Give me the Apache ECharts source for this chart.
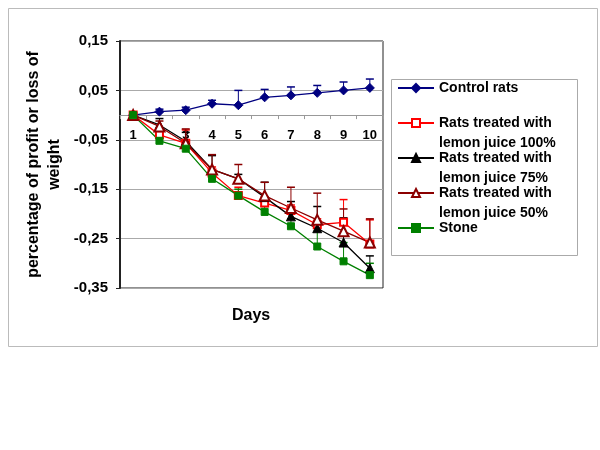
<!DOCTYPE html>
<html>
<head>
<meta charset="utf-8">
<script src="https://cdn.jsdelivr.net/npm/echarts@6/dist/echarts.min.js"></script>
<style>html,body{margin:0;padding:0;background:#fff}#c{width:600px;height:450px}</style>
</head>
<body>
<div id="c"></div>
<script>
const days = ['1','2','3','4','5','6','7','8','9','10'];
const seriesNames = ['Control rats', 'Rats treated with lemon juice 100%', 'Rats treated with lemon juice 75%', 'Rats treated with lemon juice 50%', 'Stone'];
const control   = [0, 0.007, 0.010, 0.023, 0.020, 0.036, 0.040, 0.045, 0.050, 0.055];
const controlUp = [0.004, 0.012, 0.016, 0.030, 0.050, 0.052, 0.057, 0.060, 0.067, 0.073];
const lemon100   = [0, -0.040, -0.057, -0.117, -0.163, -0.178, -0.193, -0.222, -0.217, -0.261];
const lemon100Up = [0.004, -0.028, -0.030, -0.105, -0.146, -0.165, -0.182, -0.210, -0.171, -0.212];
const lemon75   = [0, -0.020, -0.053, -0.110, -0.129, -0.166, -0.205, -0.229, -0.258, -0.310];
const lemon75Up = [0.004, -0.007, -0.035, -0.082, -0.120, -0.136, -0.175, -0.185, -0.208, -0.285];
const lemon50   = [0, -0.023, -0.057, -0.110, -0.129, -0.163, -0.188, -0.212, -0.235, -0.258];
const lemon50Up = [0.006, -0.012, -0.028, -0.080, -0.100, -0.136, -0.146, -0.158, -0.190, -0.210];
const stone   = [0, -0.052, -0.068, -0.129, -0.163, -0.196, -0.225, -0.266, -0.296, -0.324];
const stoneUp = [0.004, -0.045, -0.060, -0.120, -0.150, -0.185, -0.210, -0.225, -0.258, -0.300];

const colors = ['#000080', '#ff0000', '#000000', '#8b0000', '#008000'];
const symbols = ['diamond', 'emptyRect', 'triangle', 'emptyTriangle', 'rect'];
const symbolSizes = [9, 7, 9, 10, 7];
const values = [control, lemon100, lemon75, lemon50, stone];
const uppers = [controlUp, lemon100Up, lemon75Up, lemon50Up, stoneUp];

const chart = echarts.init(document.getElementById('c'), null, {renderer: 'canvas'});
const FONT = 'Liberation Sans, Arial, sans-serif';

function errSeries(idx) {
  return {
    type: 'custom',
    name: seriesNames[idx] + ' err',
    z: 1,
    data: values[idx].map((v, i) => [i, v, uppers[idx][i]]),
    renderItem: function (params, api) {
      const p0 = api.coord([api.value(0), api.value(1)]);
      const p1 = api.coord([api.value(0), api.value(2)]);
      const hw = 4;
      return {
        type: 'group',
        children: [
          {type: 'line', shape: {x1: p0[0], y1: p0[1], x2: p1[0], y2: p1[1]}, style: {stroke: colors[idx], lineWidth: 1}},
          {type: 'line', shape: {x1: p1[0] - hw, y1: p1[1], x2: p1[0] + hw, y2: p1[1]}, style: {stroke: colors[idx], lineWidth: 1.5}}
        ]
      };
    },
    silent: true
  };
}

const lineSeries = values.map((vals, idx) => ({
  type: 'line',
  name: seriesNames[idx],
  data: vals,
  z: 3,
  symbol: symbols[idx],
  symbolSize: symbolSizes[idx],
  showAllSymbol: true,
  itemStyle: {color: colors[idx], borderColor: colors[idx], borderWidth: 1},
  lineStyle: {color: colors[idx], width: 1.3},
  animation: false
}));

const option = {
  animation: false,
  backgroundColor: '#fff',
  grid: {left: 120, top: 41, width: 263, height: 247, show: true, borderColor: '#222', borderWidth: 1, backgroundColor: 'transparent'},
  xAxis: {
    type: 'category',
    data: days,
    boundaryGap: true,
    axisLine: {onZero: true, lineStyle: {color: '#999', width: 1}},
    axisTick: {show: true, length: 4, lineStyle: {color: '#999'}},
    axisLabel: {color: '#000', fontFamily: FONT, fontWeight: 'bold', fontSize: 13, margin: -159},
    splitLine: {show: false}
  },
  yAxis: {
    type: 'value',
    min: -0.35, max: 0.15, interval: 0.1,
    axisLine: {show: true, lineStyle: {color: '#222', width: 2}},
    axisTick: {show: true, length: 4, lineStyle: {color: '#222'}},
    axisLabel: {color: '#000', fontFamily: FONT, fontWeight: 'bold', fontSize: 15, margin: 12,
      formatter: v => (Math.round(v * 100) / 100).toFixed(2).replace('.', ',')},
    splitLine: {show: true, lineStyle: {color: '#aaa', width: 1}},
    name: 'percentage of profit or loss of\nweight',
    nameLocation: 'middle',
    nameRotate: 90,
    nameGap: 55,
    nameTextStyle: {color: '#000', fontFamily: FONT, fontWeight: 'bold', fontSize: 16, lineHeight: 21}
  },
  legend: {
    orient: 'vertical',
    left: 397, top: 58,
    padding: 0,
    itemGap: -25,
    itemWidth: 36, itemHeight: 10,
    data: seriesNames,
    selectedMode: false,
    formatter: name => ' \n' + name.replace(' lemon', '\nlemon') + (name.indexOf('lemon') >= 0 ? '' : '\n '),
    textStyle: {color: '#000', fontFamily: FONT, fontWeight: 'bold', fontSize: 14, lineHeight: 20}
  },
  graphic: [
    {type: 'rect', left: 6, top: 6, shape: {width: 589, height: 338}, style: {fill: 'none', stroke: '#bbb', lineWidth: 1}, z: -10},
    {type: 'rect', left: 389, top: 77, shape: {width: 186, height: 176}, style: {fill: 'none', stroke: '#aaa', lineWidth: 1}, z: -5},
    {type: 'text', left: 232, top: 308, style: {text: 'Days', font: 'bold 16px Liberation Sans, Arial, sans-serif', fill: '#000'}}
  ],
  series: [0,1,2,3,4].map(errSeries).concat(lineSeries)
};
chart.setOption(option);
</script>
</body>
</html>
